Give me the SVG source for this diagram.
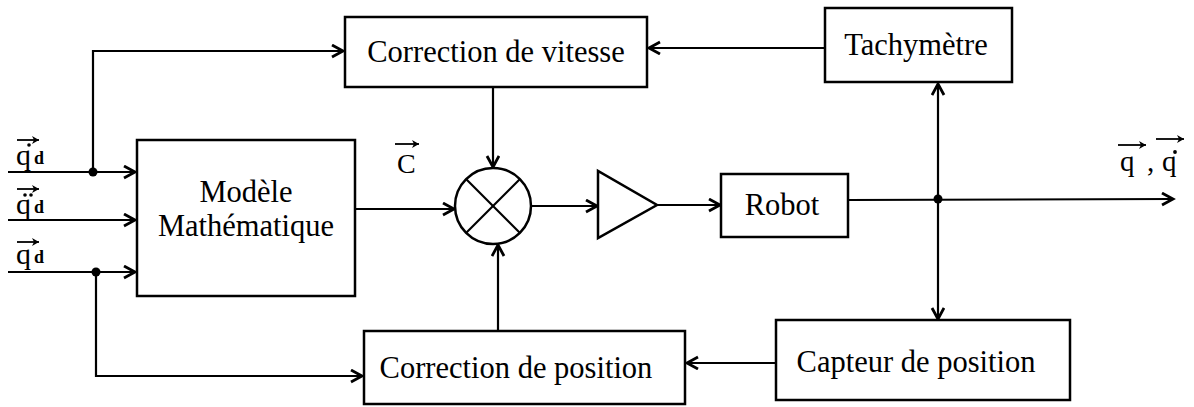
<svg xmlns="http://www.w3.org/2000/svg" width="1194" height="407" viewBox="0 0 1194 407">
<style>
.box{fill:#fff;stroke:#000;stroke-width:2.5}
.lbl{font-family:"Liberation Serif","Times New Roman",serif;font-size:30.5px;fill:#000;text-anchor:middle}
.sym{font-family:"Liberation Serif","Times New Roman",serif;fill:#000}
.ln{fill:none;stroke:#000;stroke-width:2.2}
.vec{fill:none;stroke:#000;stroke-width:1.8}
</style>
<defs>
<marker id="ah" markerUnits="userSpaceOnUse" markerWidth="16" markerHeight="16" refX="12" refY="7" orient="auto">
<path d="M1,1 L12,7 L1,13" fill="none" stroke="#000" stroke-width="2.8" stroke-linejoin="miter"/>
</marker>
<marker id="va" markerUnits="userSpaceOnUse" markerWidth="10" markerHeight="10" refX="7" refY="4" orient="auto">
<path d="M0,0 L7,4 L0,8 L2,4 z" fill="#000"/>
</marker>
</defs>
<rect width="1194" height="407" fill="#fff"/>

<g id="connectors">
<polyline class="ln" points="93,172 93,51 343,51" marker-end="url(#ah)"/>
<line class="ln" x1="8" y1="172" x2="135" y2="172" marker-end="url(#ah)"/>
<line class="ln" x1="8" y1="220" x2="135" y2="220" marker-end="url(#ah)"/>
<line class="ln" x1="8" y1="272" x2="135" y2="272" marker-end="url(#ah)"/>
<polyline class="ln" points="96,272 96,376 362,376" marker-end="url(#ah)"/>
<line class="ln" x1="825" y1="48" x2="649" y2="48" marker-end="url(#ah)"/>
<line class="ln" x1="493" y1="87" x2="493" y2="167" marker-end="url(#ah)"/>
<line class="ln" x1="355" y1="209" x2="454" y2="209" marker-end="url(#ah)"/>
<line class="ln" x1="498" y1="331" x2="498" y2="245" marker-end="url(#ah)"/>
<line class="ln" x1="531" y1="206" x2="597" y2="206" marker-end="url(#ah)"/>
<line class="ln" x1="657" y1="205" x2="720" y2="205" marker-end="url(#ah)"/>
<line class="ln" x1="848" y1="200" x2="1173" y2="199" marker-end="url(#ah)"/>
<line class="ln" x1="938" y1="199" x2="938" y2="84" marker-end="url(#ah)"/>
<line class="ln" x1="938" y1="199" x2="938" y2="319" marker-end="url(#ah)"/>
<line class="ln" x1="776" y1="363" x2="687" y2="363" marker-end="url(#ah)"/>
<circle cx="93" cy="172" r="4.5" fill="#000"/>
<circle cx="96" cy="272" r="4.5" fill="#000"/>
<circle cx="938" cy="199" r="4.5" fill="#000"/>
</g>

<g id="correction-vitesse">
<rect class="box" x="345" y="17" width="302" height="70"/>
<text class="lbl" x="496" y="62">Correction de vitesse</text>
</g>

<g id="tachymetre">
<rect class="box" x="825" y="8" width="187" height="74"/>
<text class="lbl" x="916" y="55">Tachymètre</text>
</g>

<g id="modele">
<rect class="box" x="137" y="140" width="218" height="156"/>
<text class="lbl" x="246" y="202">Modèle</text>
<text class="lbl" x="246" y="236">Mathématique</text>
</g>

<g id="multiplicateur">
<circle cx="493" cy="206" r="38" fill="#fff" stroke="#000" stroke-width="2.5"/>
<line class="ln" x1="466" y1="179" x2="520" y2="233"/>
<line class="ln" x1="520" y1="179" x2="466" y2="233"/>
</g>

<g id="amplificateur">
<polygon points="598,171 598,238 657,205" fill="#fff" stroke="#000" stroke-width="2.5"/>
</g>

<g id="robot">
<rect class="box" x="721" y="174" width="127" height="63"/>
<text class="lbl" x="782" y="215">Robot</text>
</g>

<g id="capteur-position">
<rect class="box" x="776" y="320" width="294" height="80"/>
<text class="lbl" x="916" y="372">Capteur de position</text>
</g>

<g id="correction-position">
<rect class="box" x="364" y="331" width="321" height="73"/>
<text class="lbl" x="516" y="378">Correction de position</text>
</g>

<g id="labels">
<text class="sym" x="397" y="173" font-size="28">C</text>
<line class="vec" x1="395" y1="144" x2="419" y2="144" marker-end="url(#va)"/>
<text class="sym" x="16" y="165" font-size="30">q</text>
<text class="sym" x="34" y="164" font-size="18" font-weight="bold">d</text>
<line class="vec" x1="17" y1="140" x2="39" y2="140" marker-end="url(#va)"/>
<circle cx="29" cy="145" r="1.8" fill="#000"/>
<text class="sym" x="16" y="214" font-size="30">q</text>
<text class="sym" x="34" y="213" font-size="18" font-weight="bold">d</text>
<line class="vec" x1="17" y1="189" x2="39" y2="189" marker-end="url(#va)"/>
<circle cx="25" cy="195" r="1.8" fill="#000"/>
<circle cx="31" cy="195" r="1.8" fill="#000"/>
<text class="sym" x="16" y="264" font-size="30">q</text>
<text class="sym" x="34" y="263" font-size="18" font-weight="bold">d</text>
<line class="vec" x1="17" y1="242" x2="39" y2="242" marker-end="url(#va)"/>
<text class="sym" x="1120" y="171" font-size="29">q</text>
<text class="sym" x="1147" y="171" font-size="29">,</text>
<text class="sym" x="1162" y="171" font-size="29">q</text>
<line class="vec" x1="1118" y1="145" x2="1146" y2="145" marker-end="url(#va)"/>
<line class="vec" x1="1156" y1="139" x2="1184" y2="139" marker-end="url(#va)"/>
<circle cx="1175" cy="152" r="1.9" fill="#000"/>
</g>
</svg>
